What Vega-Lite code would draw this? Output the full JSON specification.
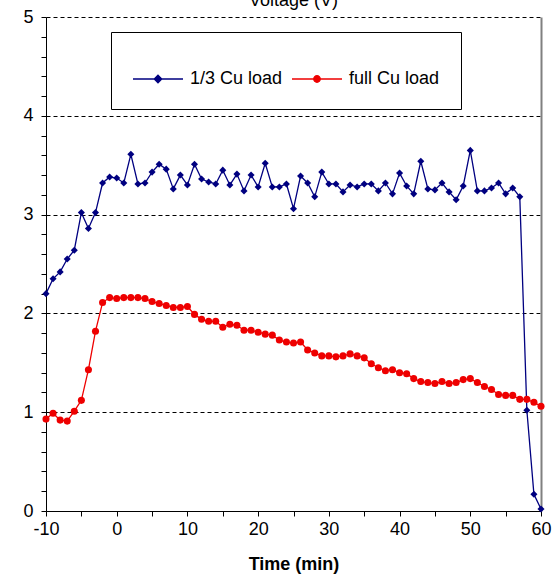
{
  "$schema": "https://vega.github.io/schema/vega-lite/v6.json",
  "width": 495,
  "height": 494,
  "autosize": {"type": "none"},
  "padding": {"left": 46, "top": 17, "right": 12, "bottom": 75},
  "background": "white",
  "title": {"text": "Voltage (V)", "fontSize": 18, "font": "Liberation Sans", "fontWeight": "normal", "anchor": "middle", "offset": -20, "baseline": "bottom", "color": "black"},
  "config": {
    "view": {"stroke": null},
    "axis": {"labelFont": "Liberation Sans", "titleFont": "Liberation Sans", "labelColor": "black", "titleColor": "black", "domainColor": "black", "tickColor": "black", "labelFontSize": 18, "titleFontSize": 18}
  },
  "data": {"values": [
    {"t": -10, "v": 2.20, "s": "1/3 Cu load"}, {"t": -9, "v": 2.35, "s": "1/3 Cu load"}, {"t": -8, "v": 2.42, "s": "1/3 Cu load"}, {"t": -7, "v": 2.55, "s": "1/3 Cu load"}, {"t": -6, "v": 2.64, "s": "1/3 Cu load"},
    {"t": -5, "v": 3.02, "s": "1/3 Cu load"}, {"t": -4, "v": 2.86, "s": "1/3 Cu load"}, {"t": -3, "v": 3.02, "s": "1/3 Cu load"}, {"t": -2, "v": 3.32, "s": "1/3 Cu load"}, {"t": -1, "v": 3.38, "s": "1/3 Cu load"},
    {"t": 0, "v": 3.37, "s": "1/3 Cu load"}, {"t": 1, "v": 3.32, "s": "1/3 Cu load"}, {"t": 2, "v": 3.61, "s": "1/3 Cu load"}, {"t": 3, "v": 3.31, "s": "1/3 Cu load"}, {"t": 4, "v": 3.32, "s": "1/3 Cu load"},
    {"t": 5, "v": 3.43, "s": "1/3 Cu load"}, {"t": 6, "v": 3.51, "s": "1/3 Cu load"}, {"t": 7, "v": 3.46, "s": "1/3 Cu load"}, {"t": 8, "v": 3.26, "s": "1/3 Cu load"}, {"t": 9, "v": 3.40, "s": "1/3 Cu load"},
    {"t": 10, "v": 3.30, "s": "1/3 Cu load"}, {"t": 11, "v": 3.51, "s": "1/3 Cu load"}, {"t": 12, "v": 3.36, "s": "1/3 Cu load"}, {"t": 13, "v": 3.33, "s": "1/3 Cu load"}, {"t": 14, "v": 3.31, "s": "1/3 Cu load"},
    {"t": 15, "v": 3.45, "s": "1/3 Cu load"}, {"t": 16, "v": 3.30, "s": "1/3 Cu load"}, {"t": 17, "v": 3.41, "s": "1/3 Cu load"}, {"t": 18, "v": 3.24, "s": "1/3 Cu load"}, {"t": 19, "v": 3.40, "s": "1/3 Cu load"},
    {"t": 20, "v": 3.28, "s": "1/3 Cu load"}, {"t": 21, "v": 3.52, "s": "1/3 Cu load"}, {"t": 22, "v": 3.28, "s": "1/3 Cu load"}, {"t": 23, "v": 3.28, "s": "1/3 Cu load"}, {"t": 24, "v": 3.31, "s": "1/3 Cu load"},
    {"t": 25, "v": 3.06, "s": "1/3 Cu load"}, {"t": 26, "v": 3.39, "s": "1/3 Cu load"}, {"t": 27, "v": 3.32, "s": "1/3 Cu load"}, {"t": 28, "v": 3.18, "s": "1/3 Cu load"}, {"t": 29, "v": 3.43, "s": "1/3 Cu load"},
    {"t": 30, "v": 3.31, "s": "1/3 Cu load"}, {"t": 31, "v": 3.31, "s": "1/3 Cu load"}, {"t": 32, "v": 3.23, "s": "1/3 Cu load"}, {"t": 33, "v": 3.30, "s": "1/3 Cu load"}, {"t": 34, "v": 3.28, "s": "1/3 Cu load"},
    {"t": 35, "v": 3.31, "s": "1/3 Cu load"}, {"t": 36, "v": 3.31, "s": "1/3 Cu load"}, {"t": 37, "v": 3.24, "s": "1/3 Cu load"}, {"t": 38, "v": 3.32, "s": "1/3 Cu load"}, {"t": 39, "v": 3.21, "s": "1/3 Cu load"},
    {"t": 40, "v": 3.42, "s": "1/3 Cu load"}, {"t": 41, "v": 3.29, "s": "1/3 Cu load"}, {"t": 42, "v": 3.21, "s": "1/3 Cu load"}, {"t": 43, "v": 3.54, "s": "1/3 Cu load"}, {"t": 44, "v": 3.26, "s": "1/3 Cu load"},
    {"t": 45, "v": 3.25, "s": "1/3 Cu load"}, {"t": 46, "v": 3.32, "s": "1/3 Cu load"}, {"t": 47, "v": 3.23, "s": "1/3 Cu load"}, {"t": 48, "v": 3.15, "s": "1/3 Cu load"}, {"t": 49, "v": 3.29, "s": "1/3 Cu load"},
    {"t": 50, "v": 3.65, "s": "1/3 Cu load"}, {"t": 51, "v": 3.24, "s": "1/3 Cu load"}, {"t": 52, "v": 3.24, "s": "1/3 Cu load"}, {"t": 53, "v": 3.27, "s": "1/3 Cu load"}, {"t": 54, "v": 3.32, "s": "1/3 Cu load"},
    {"t": 55, "v": 3.21, "s": "1/3 Cu load"}, {"t": 56, "v": 3.27, "s": "1/3 Cu load"}, {"t": 57, "v": 3.18, "s": "1/3 Cu load"}, {"t": 58, "v": 1.02, "s": "1/3 Cu load"}, {"t": 59, "v": 0.17, "s": "1/3 Cu load"},
    {"t": 60, "v": 0.02, "s": "1/3 Cu load"},
    {"t": -10, "v": 0.93, "s": "full Cu load"}, {"t": -9, "v": 0.99, "s": "full Cu load"}, {"t": -8, "v": 0.92, "s": "full Cu load"}, {"t": -7, "v": 0.91, "s": "full Cu load"}, {"t": -6, "v": 1.01, "s": "full Cu load"},
    {"t": -5, "v": 1.12, "s": "full Cu load"}, {"t": -4, "v": 1.43, "s": "full Cu load"}, {"t": -3, "v": 1.82, "s": "full Cu load"}, {"t": -2, "v": 2.11, "s": "full Cu load"}, {"t": -1, "v": 2.16, "s": "full Cu load"},
    {"t": 0, "v": 2.15, "s": "full Cu load"}, {"t": 1, "v": 2.16, "s": "full Cu load"}, {"t": 2, "v": 2.16, "s": "full Cu load"}, {"t": 3, "v": 2.16, "s": "full Cu load"}, {"t": 4, "v": 2.15, "s": "full Cu load"},
    {"t": 5, "v": 2.12, "s": "full Cu load"}, {"t": 6, "v": 2.10, "s": "full Cu load"}, {"t": 7, "v": 2.08, "s": "full Cu load"}, {"t": 8, "v": 2.06, "s": "full Cu load"}, {"t": 9, "v": 2.06, "s": "full Cu load"},
    {"t": 10, "v": 2.07, "s": "full Cu load"}, {"t": 11, "v": 1.99, "s": "full Cu load"}, {"t": 12, "v": 1.94, "s": "full Cu load"}, {"t": 13, "v": 1.92, "s": "full Cu load"}, {"t": 14, "v": 1.92, "s": "full Cu load"},
    {"t": 15, "v": 1.86, "s": "full Cu load"}, {"t": 16, "v": 1.89, "s": "full Cu load"}, {"t": 17, "v": 1.88, "s": "full Cu load"}, {"t": 18, "v": 1.83, "s": "full Cu load"}, {"t": 19, "v": 1.83, "s": "full Cu load"},
    {"t": 20, "v": 1.81, "s": "full Cu load"}, {"t": 21, "v": 1.79, "s": "full Cu load"}, {"t": 22, "v": 1.78, "s": "full Cu load"}, {"t": 23, "v": 1.73, "s": "full Cu load"}, {"t": 24, "v": 1.71, "s": "full Cu load"},
    {"t": 25, "v": 1.70, "s": "full Cu load"}, {"t": 26, "v": 1.71, "s": "full Cu load"}, {"t": 27, "v": 1.63, "s": "full Cu load"}, {"t": 28, "v": 1.60, "s": "full Cu load"}, {"t": 29, "v": 1.57, "s": "full Cu load"},
    {"t": 30, "v": 1.57, "s": "full Cu load"}, {"t": 31, "v": 1.56, "s": "full Cu load"}, {"t": 32, "v": 1.57, "s": "full Cu load"}, {"t": 33, "v": 1.59, "s": "full Cu load"}, {"t": 34, "v": 1.57, "s": "full Cu load"},
    {"t": 35, "v": 1.55, "s": "full Cu load"}, {"t": 36, "v": 1.49, "s": "full Cu load"}, {"t": 37, "v": 1.45, "s": "full Cu load"}, {"t": 38, "v": 1.42, "s": "full Cu load"}, {"t": 39, "v": 1.43, "s": "full Cu load"},
    {"t": 40, "v": 1.40, "s": "full Cu load"}, {"t": 41, "v": 1.39, "s": "full Cu load"}, {"t": 42, "v": 1.34, "s": "full Cu load"}, {"t": 43, "v": 1.31, "s": "full Cu load"}, {"t": 44, "v": 1.30, "s": "full Cu load"},
    {"t": 45, "v": 1.29, "s": "full Cu load"}, {"t": 46, "v": 1.31, "s": "full Cu load"}, {"t": 47, "v": 1.29, "s": "full Cu load"}, {"t": 48, "v": 1.30, "s": "full Cu load"}, {"t": 49, "v": 1.33, "s": "full Cu load"},
    {"t": 50, "v": 1.34, "s": "full Cu load"}, {"t": 51, "v": 1.30, "s": "full Cu load"}, {"t": 52, "v": 1.26, "s": "full Cu load"}, {"t": 53, "v": 1.23, "s": "full Cu load"}, {"t": 54, "v": 1.18, "s": "full Cu load"},
    {"t": 55, "v": 1.17, "s": "full Cu load"}, {"t": 56, "v": 1.17, "s": "full Cu load"}, {"t": 57, "v": 1.13, "s": "full Cu load"}, {"t": 58, "v": 1.13, "s": "full Cu load"}, {"t": 59, "v": 1.10, "s": "full Cu load"},
    {"t": 60, "v": 1.06, "s": "full Cu load"}
  ]},
  "encoding": {
    "x": {"field": "t", "type": "quantitative", "title": "Time (min)",
      "scale": {"domain": [-10, 60], "nice": false, "zero": false},
      "axis": {"values": [-10, -5, 0, 5, 10, 15, 20, 25, 30, 35, 40, 45, 50, 55, 60], "labelExpr": "datum.value % 10 === 0 ? '' + datum.value : ''", "grid": false, "tickSize": 5, "labelPadding": 4, "titlePadding": 17, "titleFontWeight": "bold", "labelFlush": false, "labelOverlap": false}},
    "color": {"field": "s", "type": "nominal",
      "scale": {"domain": ["1/3 Cu load", "full Cu load"], "range": ["#000080", "#ee0000"]},
      "legend": {"title": null, "orient": "none", "legendX": 65, "legendY": 15, "direction": "horizontal",
        "strokeColor": "black", "fillColor": "white", "padding": 21, "symbolSize": 2500, "symbolStrokeWidth": 1.3,
        "labelFontSize": 18, "labelFont": "Liberation Sans", "labelColor": "black", "labelOffset": 6, "columnPadding": 6,
        "encode": {"symbols": {"update": {
          "shape": {"signal": "datum.value === '1/3 Cu load' ? 'M-1,0H1M0,-0.15L0.15,0L0,0.15L-0.15,0Z' : 'M-1,0H1M0.13,0A0.13,0.13,0,1,1,-0.13,0A0.13,0.13,0,1,1,0.13,0Z'"},
          "fill": {"scale": "color", "field": "value"},
          "stroke": {"scale": "color", "field": "value"},
          "opacity": {"value": 1}, "fillOpacity": {"value": 1}, "strokeOpacity": {"value": 1}
        }}}}}
  },
  "layer": [
    {"mark": {"type": "line", "strokeWidth": 1.3},
     "encoding": {"y": {"field": "v", "type": "quantitative", "title": null,
       "scale": {"domain": [0, 5], "nice": false},
       "axis": {"values": [0, 0.2, 0.4, 0.6, 0.8, 1, 1.2, 1.4, 1.6, 1.8, 2, 2.2, 2.4, 2.6, 2.8, 3, 3.2, 3.4, 3.6, 3.8, 4, 4.2, 4.4, 4.6, 4.8, 5],
         "labelExpr": "datum.value % 1 === 0 ? '' + datum.value : ''", "tickSize": 5, "labelPadding": 8, "labelOverlap": false, "labelFlush": false,
         "grid": true, "gridColor": "black", "gridDash": [4, 3], "gridWidth": 1,
         "gridOpacity": {"condition": {"test": "datum.value % 1 === 0 && datum.value > 0", "value": 1}, "value": 0}}}}},
    {"transform": [{"filter": "datum.s === '1/3 Cu load'"}],
     "mark": {"type": "point", "filled": true, "size": 50, "opacity": 1, "shape": "diamond"},
     "encoding": {"y": {"field": "v", "type": "quantitative",
       "axis": {"orient": "right", "title": null, "labels": false, "ticks": false, "grid": false, "domainColor": "#808080", "domainWidth": 2}}}},
    {"transform": [{"filter": "datum.s === 'full Cu load'"}],
     "mark": {"type": "point", "filled": true, "size": 50, "opacity": 1, "shape": "circle"},
     "encoding": {"y": {"field": "v", "type": "quantitative", "axis": null}}}
  ],
  "resolve": {"axis": {"y": "independent"}}
}
